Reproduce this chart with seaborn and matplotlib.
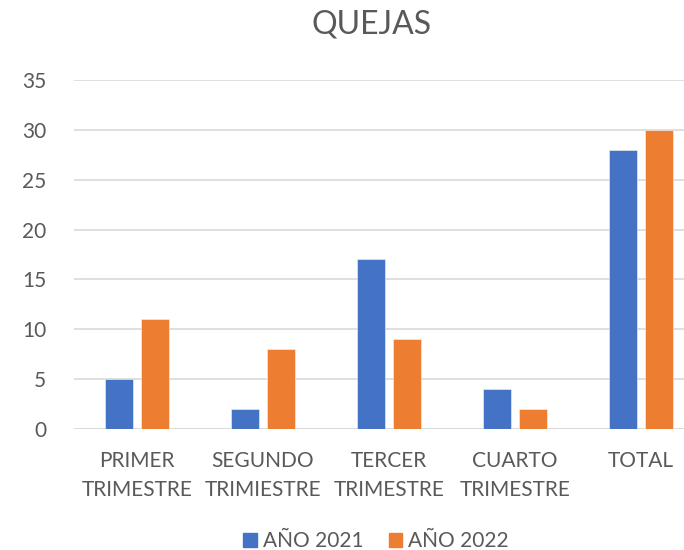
import pandas as pd
import matplotlib
matplotlib.use('Agg')
import matplotlib.pyplot as plt
import seaborn as sns

# data
categories = ['PRIMER\nTRIMESTRE', 'SEGUNDO\nTRIMIESTRE', 'TERCER\nTRIMESTRE',
              'CUARTO\nTRIMESTRE', 'TOTAL']
series_names = ['AÑO 2021', 'AÑO 2022']
values_2021 = [5, 2, 17, 4, 28]
values_2022 = [11, 8, 9, 2, 30]
y_ticks = [0, 5, 10, 15, 20, 25, 30, 35]

df = pd.DataFrame({
    'trimestre': categories * 2,
    'serie': [series_names[0]] * len(categories) + [series_names[1]] * len(categories),
    'quejas': values_2021 + values_2022,
})

sns.set_style('white')
plt.rcParams['font.family'] = ['Lato', 'DejaVu Sans']
text_color = '#595959'
palette = {'AÑO 2021': '#4472C4', 'AÑO 2022': '#ED7D31'}

fig = plt.figure(figsize=(6.84, 5.5), dpi=100)
# axes run past the right edge like the original (clipped)
ax = fig.add_axes([74 / 684, 121 / 550, 630 / 684, 349 / 550])

sns.barplot(data=df, x='trimestre', y='quejas', hue='serie', palette=palette,
            width=0.571, gap=0.22, saturation=1, ax=ax, legend=False,
            edgecolor='#f4f4f4', linewidth=0.4)

ax.set_ylim(0, 35)
ax.set_xlim(-0.5, len(categories) - 0.5)
ax.set_yticks(y_ticks)
ax.yaxis.grid(True, color='#D9D9D9', linewidth=1.2)
ax.set_axisbelow(True)
for s in ax.spines.values():
    s.set_visible(False)
ax.axhline(0, color='#D9D9D9', linewidth=1.2, zorder=0.5)

ax.set_xlabel('')
ax.set_ylabel('')
ax.tick_params(axis='y', length=0, pad=20, labelsize=15, labelcolor=text_color)
ax.tick_params(axis='x', length=0, pad=16, labelsize=15, labelcolor=text_color)
for lbl in ax.get_xticklabels():
    lbl.set_linespacing(1.55)

fig.text(372 / 684, 1 - 25 / 550, 'QUEJAS', ha='center', va='center',
         fontsize=23, color=text_color)

handles = [plt.Rectangle((0, 0), 1, 1, color=palette[n]) for n in series_names]
fig.legend(handles, series_names, loc='center', bbox_to_anchor=(376 / 684, 1 - 541 / 550),
           ncol=2, frameon=False, fontsize=15, labelcolor=text_color,
           handlelength=0.65, handleheight=0.65, handletextpad=0.3, columnspacing=1.2)

fig.savefig('out.png', dpi=100)
